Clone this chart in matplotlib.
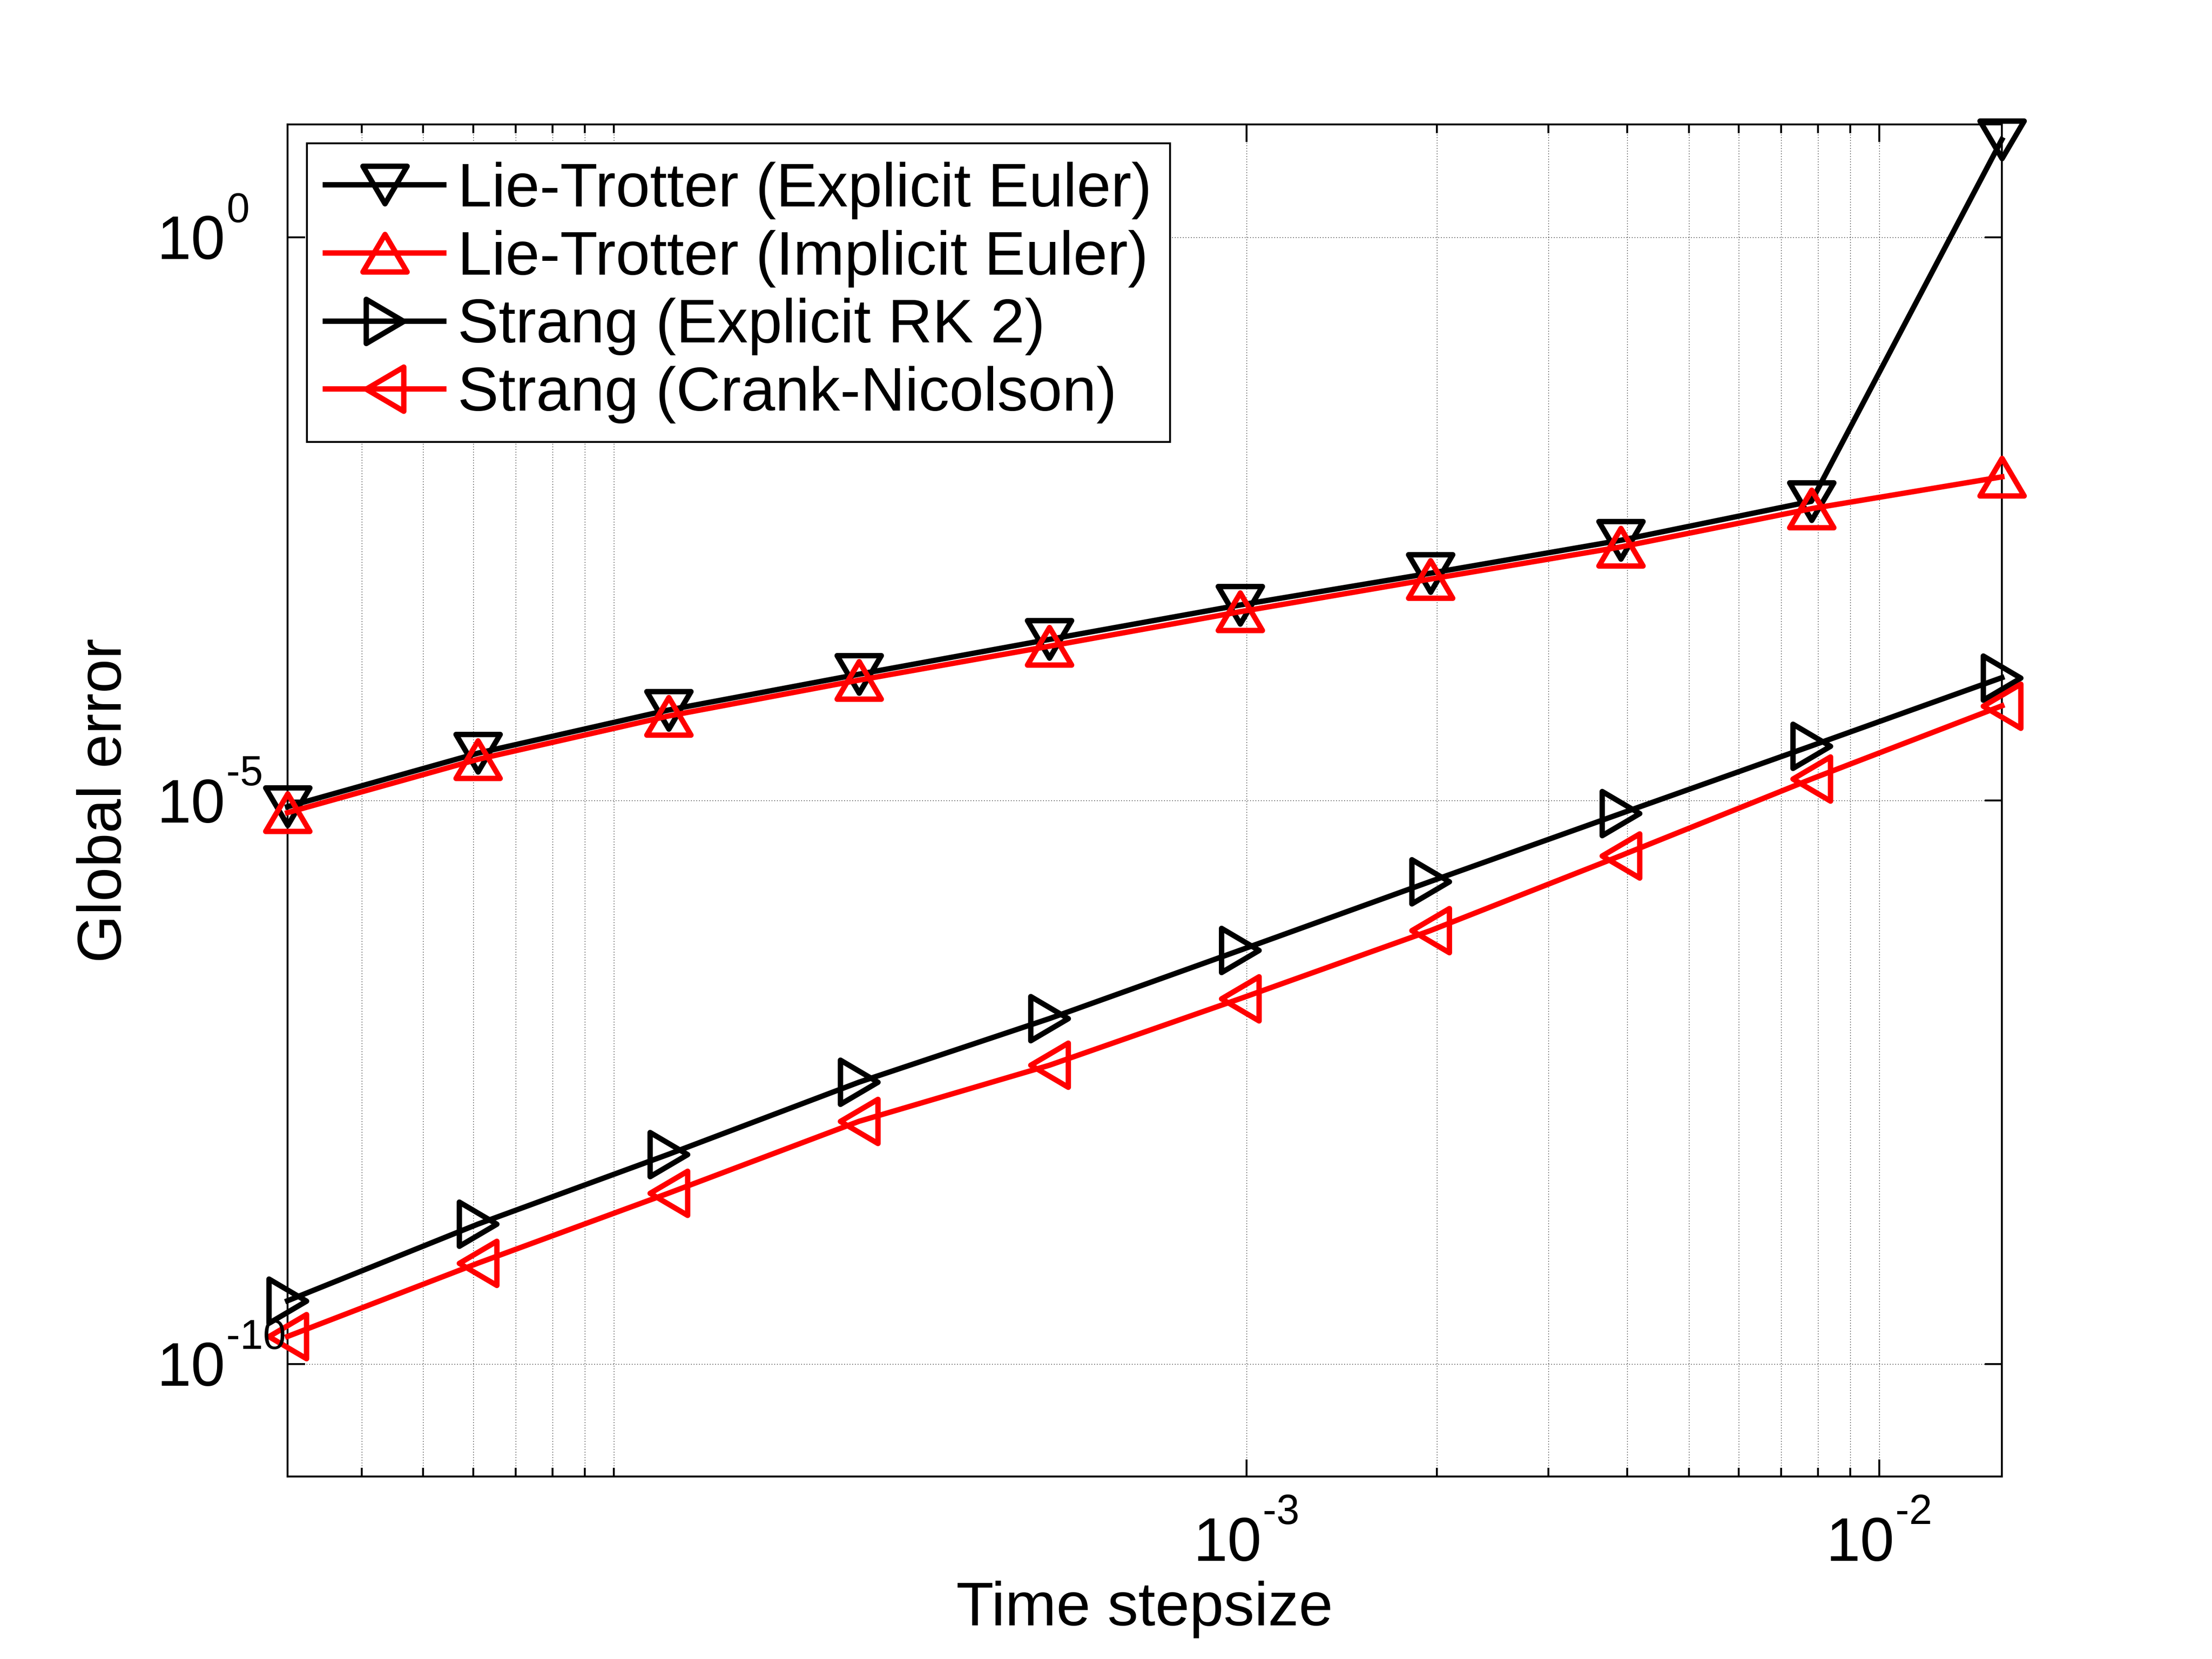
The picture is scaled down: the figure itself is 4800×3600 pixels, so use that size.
import matplotlib.pyplot as plt
from matplotlib.path import Path
from matplotlib.markers import MarkerStyle
from matplotlib.ticker import FixedLocator, NullLocator, NullFormatter
from matplotlib.transforms import blended_transform_factory, ScaledTranslation

plt.rcParams['font.family'] = ['Liberation Sans', 'DejaVu Sans']

# time step sizes (1/32768 ... 1/64)
dt = [3.0518e-05, 6.1035e-05, 1.2207e-04, 2.4414e-04, 4.8828e-04,
      9.7656e-04, 1.9531e-03, 3.9063e-03, 7.8125e-03, 1.5625e-02]

# global errors
err_lt_explicit = [8.81e-6, 2.63e-5, 6.35e-5, 1.32e-4, 2.69e-4,
                   5.43e-4, 1.04e-3, 2.04e-3, 4.52e-3, 7.33]
err_lt_implicit = [7.80e-6, 2.32e-5, 5.62e-5, 1.17e-4, 2.34e-4,
                   4.73e-4, 9.23e-4, 1.78e-3, 3.89e-3, 7.45e-3]
err_strang_rk2 = [3.63e-10, 1.74e-9, 7.24e-9, 3.16e-8, 1.16e-7,
                  4.68e-7, 1.91e-6, 7.66e-6, 3.05e-5, 1.23e-4]
err_strang_cn = [1.75e-10, 7.83e-10, 3.27e-9, 1.42e-8, 4.47e-8,
                 1.74e-7, 7.00e-7, 3.24e-6, 1.55e-5, 6.92e-5]

labels = ['Lie-Trotter (Explicit Euler)', 'Lie-Trotter (Implicit Euler)',
          'Strang (Explicit RK 2)', 'Strang (Crank-Nicolson)']

x_major = [1e-3, 1e-2]
x_major_exp = ['-3', '-2']
x_minor = [4e-5, 5e-5, 6e-5, 7e-5, 8e-5, 9e-5, 1e-4,
           2e-3, 3e-3, 4e-3, 5e-3, 6e-3, 7e-3, 8e-3, 9e-3]
y_major = [1e-10, 1e-5, 1e0]
y_major_exp = ['-10', '-5', '0']

FS = 32        # main font size
FS_EXP = 21.5  # exponent font size
EXP_RISE = 21.5


def tri(verts):
    p = Path(verts + [verts[0]], [Path.MOVETO, Path.LINETO, Path.LINETO, Path.CLOSEPOLY])
    return MarkerStyle(p, joinstyle='miter')


h = 0.85
m_down = tri([(-1, h), (1, h), (0, -h)])
m_up = tri([(-1, -h), (1, -h), (0, h)])
m_right = tri([(-h, 1), (-h, -1), (h, 0)])
m_left = tri([(h, 1), (h, -1), (-h, 0)])

fig = plt.figure(figsize=(16, 12), dpi=300)
ax = fig.add_axes([0.13, 0.11, 0.775, 0.815])

series = [err_lt_explicit, err_lt_implicit, err_strang_rk2, err_strang_cn]
colors = ['k', 'r', 'k', 'r']
markers = [m_down, m_up, m_right, m_left]
for y, c, m, lab in zip(series, colors, markers, labels):
    ax.plot(dt, y, color=c, lw=2.8, marker=m, ms=23, mew=2.8, mfc='none',
            label=lab, clip_on=False, zorder=3)

ax.set_xscale('log')
ax.set_yscale('log')
ax.set_xlim(dt[0], dt[-1])
ax.set_ylim(1e-11, 1e1)

ax.xaxis.set_major_locator(FixedLocator(x_major))
ax.xaxis.set_minor_locator(FixedLocator(x_minor))
ax.xaxis.set_minor_formatter(NullFormatter())
ax.yaxis.set_major_locator(FixedLocator(y_major))
ax.yaxis.set_minor_locator(NullLocator())

grid_kw = dict(color='k', lw=0.35, ls=(0, (1, 3)))
ax.grid(True, which='major', axis='both', **grid_kw)
ax.grid(True, which='minor', axis='x', **grid_kw)
ax.set_axisbelow(True)

ax.tick_params(which='both', direction='in', top=True, right=True, width=1.0,
               labelbottom=False, labelleft=False)
ax.tick_params(which='major', length=9)
ax.tick_params(which='minor', length=4.6)
for s in ax.spines.values():
    s.set_linewidth(1.0)

# MATLAB-style "10^n" tick labels: base "10" plus a raised exponent
ytrans = blended_transform_factory(ax.transAxes, ax.transData)
for yv, e in zip(y_major, y_major_exp):
    base = ax.text(0, yv, '10', fontsize=FS, ha='left', va='baseline',
                   transform=ytrans + ScaledTranslation(-68 / 72, -11.5 / 72, fig.dpi_scale_trans))
    ax.annotate(e, xy=(1, 0), xycoords=base, xytext=(0.5, EXP_RISE),
                textcoords='offset points', fontsize=FS_EXP, ha='left', va='bottom')

xtrans = blended_transform_factory(ax.transData, ax.transAxes)
for xv, e in zip(x_major, x_major_exp):
    base = ax.text(xv, 0, '10', fontsize=FS, ha='right', va='baseline',
                   transform=xtrans + ScaledTranslation(8 / 72, -44 / 72, fig.dpi_scale_trans))
    ax.annotate(e, xy=(1, 0), xycoords=base, xytext=(0.5, EXP_RISE),
                textcoords='offset points', fontsize=FS_EXP, ha='left', va='bottom')

ax.set_xlabel('Time stepsize', fontsize=FS)
ax.set_ylabel('Global error', fontsize=FS)
ax.xaxis.set_label_coords(0.5, -0.077)
ax.yaxis.set_label_coords(-0.0895, 0.5)

leg = ax.legend(loc='upper left', bbox_to_anchor=(0.0113, 0.986), fontsize=FS,
                frameon=True, fancybox=False, edgecolor='k', framealpha=1,
                borderpad=0.3, handlelength=1.93, handletextpad=0.22,
                labelspacing=0.17, borderaxespad=0, numpoints=1)
leg.get_frame().set_linewidth(1.0)

fig.savefig('out.png', dpi=300)
